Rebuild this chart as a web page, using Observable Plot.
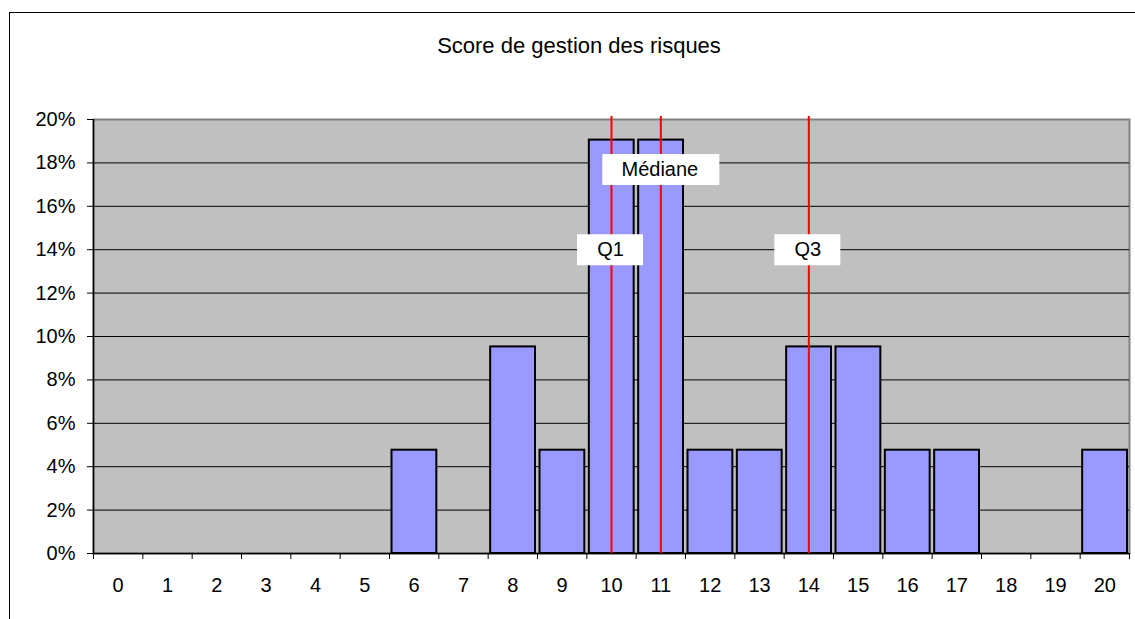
<!DOCTYPE html>
<html>
<head>
<meta charset="utf-8">
<script src="https://cdn.jsdelivr.net/npm/d3@7"></script>
<script src="https://cdn.jsdelivr.net/npm/@observablehq/plot@0.6"></script>
<style>
  html, body { margin: 0; padding: 0; background: #fff; }
  #wrap { position: relative; width: 1135px; height: 619px; overflow: hidden; font-family: "Liberation Sans", Arial, sans-serif; }
  #frame { position: absolute; left: 9px; top: 12px; width: 1200px; height: 700px; border-top: 1px solid #000; border-left: 1px solid #000; }
  #title { position: absolute; left: 579px; top: 33px; transform: translateX(-50%); font-size: 22px; line-height: 25px; white-space: nowrap; color: #000; }
  #chart { position: absolute; left: 0; top: 80px; }
</style>
</head>
<body>
<div id="wrap">
  <div id="frame"></div>
  <div id="title">Score de gestion des risques</div>
  <div id="chart"></div>
</div>
<script>
// Scores 0..20 and share of respondents
const scores = [0, 1, 2, 3, 4, 5, 6, 7, 8, 9, 10, 11, 12, 13, 14, 15, 16, 17, 18, 19, 20];
const shares = [0, 0, 0, 0, 0, 0, 0.0476, 0, 0.0952, 0.0476, 0.1905, 0.1905, 0.0476, 0.0476, 0.0952, 0.0952, 0.0476, 0.0476, 0, 0, 0.0476];
const yTicks = [0, 0.02, 0.04, 0.06, 0.08, 0.10, 0.12, 0.14, 0.16, 0.18, 0.20];
const gridLevels = [0.02, 0.04, 0.06, 0.08, 0.10, 0.12, 0.14, 0.16, 0.18];

// Quartile markers
const markerLabels = ["Q1", "Médiane", "Q3"];
const markerScores = [10, 11, 14];
const markerLevels = [0.14, 0.177, 0.14];

const data = scores.map((s, i) => ({score: s, share: shares[i]}));
const bars = data.filter(d => d.share > 0);
const markers = markerLabels.map((l, i) => ({label: l, score: markerScores[i], level: markerLevels[i]}));
const boundaries = scores.map(s => s - 0.5).concat([scores[scores.length - 1] + 0.5]);

function boxSymbol(w, h) {
  return { draw(context) { context.rect(-w / 2, -h / 2, w, h); } };
}

const chart = Plot.plot({
  width: 1135,
  height: 539,
  marginTop: 39,
  marginLeft: 93,
  marginRight: 6,
  marginBottom: 66,
  style: { fontFamily: "'Liberation Sans', Arial, sans-serif", fontSize: "20px", color: "#000", background: "transparent" },
  x: { domain: [-0.5, 20.5] },
  y: { domain: [0, 0.2] },
  marks: [
    Plot.frame({ fill: "#c0c0c0", stroke: "#808080", strokeWidth: 2 }),
    Plot.ruleY(gridLevels, { stroke: "#000", strokeWidth: 1 }),
    Plot.rectY(bars, {
      x1: d => d.score - 0.5, x2: d => d.score + 0.5, y1: 0, y2: "share",
      fill: "#9999ff", stroke: "#000", strokeWidth: 2, insetLeft: 2.5, insetRight: 2
    }),
    Plot.ruleX([-0.5], { stroke: "#000", strokeWidth: 1.5 }),
    Plot.ruleY([0], { stroke: "#000", strokeWidth: 1.5 }),
    Plot.ruleX(markers, { x: "score", stroke: "#ff0000", strokeWidth: 2, insetTop: -3 }),
    Plot.dot(markers.filter(d => d.label !== "Médiane"), { x: "score", y: "level", symbol: boxSymbol(66, 31), fill: "#fff", stroke: null, dx: -1.5 }),
    Plot.dot(markers.filter(d => d.label === "Médiane"), { x: "score", y: "level", symbol: boxSymbol(117, 31), fill: "#fff", stroke: null }),
    Plot.text(markers, { x: "score", y: "level", text: "label", fill: "#000", fontSize: 20, dx: -1 }),
    Plot.axisY({ ticks: yTicks, tickFormat: d3.format(".0%"), tickSize: 6, tickPadding: 12, label: null }),
    Plot.axisX({ ticks: boundaries, tickFormat: () => "", tickSize: 6, label: null }),
    Plot.axisX({ ticks: scores, tickFormat: d => String(d), tickSize: 0, tickPadding: 24, label: null })
  ]
});
document.getElementById("chart").appendChild(chart);
</script>
</body>
</html>
